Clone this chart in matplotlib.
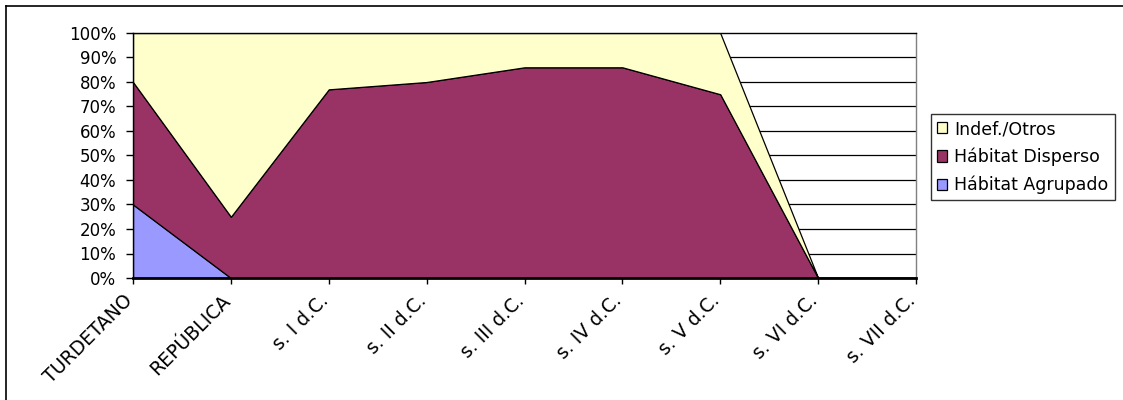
import numpy as np
import matplotlib
matplotlib.use("Agg")
import matplotlib.pyplot as plt
from matplotlib.lines import Line2D
from matplotlib.transforms import ScaledTranslation

# datos (porcentajes)
categorias = ["TURDETANO", "REPÚBLICA", "s. I d.C.", "s. II d.C.", "s. III d.C.",
              "s. IV d.C.", "s. V d.C.", "s. VI d.C.", "s. VII d.C."]
agrupado = [30, 0, 0, 0, 0, 0, 0, 0, 0]
disperso = [50, 25, 77, 80, 86, 86, 75, 0, 0]
indef = [20, 75, 23, 20, 14, 14, 25, 0, 0]

series = [agrupado, disperso, indef]
nombres = ["Hábitat Agrupado", "Hábitat Disperso", "Indef./Otros"]
colores = ["#9999FF", "#993366", "#FFFFCC"]

plt.rcParams['font.family'] = ['DejaVu Sans']

fig = plt.figure(figsize=(11.23, 4.0), dpi=100)
ax = fig.add_axes([133 / 1123, 1 - 278 / 400, (916 - 133) / 1123, (278 - 33) / 400])

x = np.arange(len(categorias))
base = np.zeros(len(categorias))
handles = []
for vals, nombre, color in zip(series, nombres, colores):
    v = np.array(vals, dtype=float) / 100.0
    h = ax.fill_between(x, base, base + v, facecolor=color, edgecolor="black",
                        linewidth=0.9, zorder=2, label=nombre)
    handles.append(h)
    base = base + v

# rejilla
ax.set_axisbelow(True)
for yv in np.arange(0.1, 1.0, 0.1):
    ax.axhline(yv, color="black", linewidth=0.9, zorder=1)

ax.set_xlim(0, len(categorias) - 1)
ax.set_ylim(0, 1)
ax.set_yticks(np.linspace(0, 1, 11))
ax.set_yticklabels([f"{int(round(t * 100))}%" for t in np.linspace(0, 1, 11)], fontsize=12)
ax.tick_params(axis="y", length=5, width=1, pad=7, color="black")
ax.set_xticks(x)
ax.set_xticklabels(categorias, rotation=45, ha="right", va="top",
                   rotation_mode="anchor", fontsize=13.5)
ax.tick_params(axis="x", length=4.5, width=1, pad=5, color="black")
for lab in ax.get_xticklabels():
    lab.set_transform(lab.get_transform() + ScaledTranslation(-0.10, 0, fig.dpi_scale_trans))

ax.spines["left"].set_color("black")
ax.spines["left"].set_linewidth(1)
ax.spines["bottom"].set_color("black")
ax.spines["bottom"].set_linewidth(2)
ax.spines["bottom"].set_zorder(3)
ax.spines["top"].set_color("black")
ax.spines["top"].set_linewidth(1)
ax.spines["right"].set_color("#808080")
ax.spines["right"].set_linewidth(1)

leg = fig.legend(handles[::-1], nombres[::-1], loc="upper left",
                 bbox_to_anchor=(931 / 1123, 1 - 114 / 400), borderaxespad=0,
                 fontsize=12.5, frameon=True, fancybox=False, shadow=False,
                 handlelength=0.6, handleheight=0.6, handletextpad=0.4,
                 labelspacing=0.55, borderpad=0.35)
leg.get_frame().set_edgecolor("black")
leg.get_frame().set_linewidth(1)

# borde del gráfico
fig.add_artist(Line2D([6 / 1123, 1], [1 - 6 / 400, 1 - 6 / 400], color="black", linewidth=1.2))
fig.add_artist(Line2D([6 / 1123, 6 / 1123], [0, 1 - 6 / 400], color="black", linewidth=1.2))

fig.savefig("out.png", dpi=100)
